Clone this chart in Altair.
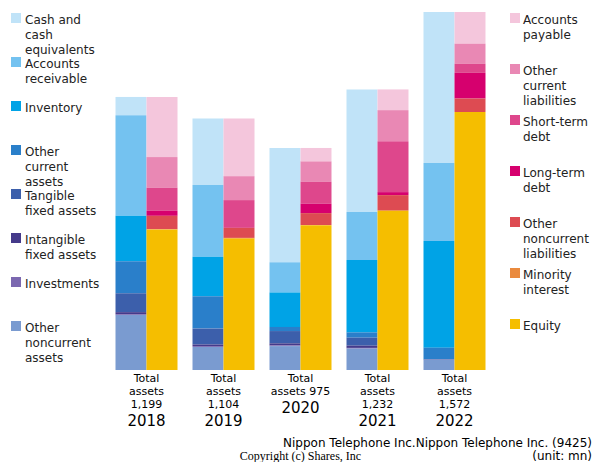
import altair as alt
import pandas as pd

# ---------------- data ----------------
years = ["2018", "2019", "2020", "2021", "2022"]
totals = [1199, 1104, 975, 1232, 1572]
total_labels = ["Total\nassets\n1,199", "Total\nassets\n1,104", "Total\nassets 975",
                "Total\nassets\n1,232", "Total\nassets\n1,572"]

# assets (legend order, top of bar first)
asset_cats = ["Cash and cash equivalents", "Accounts receivable", "Inventory",
              "Other current assets", "Tangible fixed assets", "Intangible fixed assets",
              "Investments", "Other noncurrent assets"]
asset_labels = ["Cash and\ncash\nequivalents", "Accounts\nreceivable", "Inventory",
                "Other\ncurrent\nassets", "Tangible\nfixed assets", "Intangible\nfixed assets",
                "Investments", "Other\nnoncurrent\nassets"]
asset_colors = ["#c0e3f8", "#74c2f0", "#00a3e6", "#2a7fca", "#3c5fab", "#453a8a",
                "#7b68b0", "#7a9bd0"]

cash = [80, 292, 502, 538, 663]
receivable = [442, 315, 133, 211, 343]
inventory = [199, 173, 151, 318, 468]
other_current_assets = [141, 142, 18, 23, 51]
tangible = [83, 70, 54, 35, 2]
intangible = [9, 7, 9, 10, 0]
investments = [4, 4, 3, 3, 1]
other_noncurrent_assets = [241, 101, 105, 94, 44]
asset_values = [cash, receivable, inventory, other_current_assets, tangible,
                intangible, investments, other_noncurrent_assets]

# liabilities & equity (legend order, top of bar first)
liab_cats = ["Accounts payable", "Other current liabilities", "Short-term debt",
             "Long-term debt", "Other noncurrent liabilities", "Minority interest", "Equity"]
liab_labels = ["Accounts\npayable", "Other\ncurrent\nliabilities", "Short-term\ndebt",
               "Long-term\ndebt", "Other\nnoncurrent\nliabilities", "Minority\ninterest", "Equity"]
liab_colors = ["#f4c6dc", "#e988b4", "#de478c", "#d6006e", "#dd4b52", "#ea8a3e", "#f5be00"]

payable = [264, 253, 59, 91, 139]
other_current_liab = [135, 105, 89, 136, 88]
short_debt = [101, 122, 97, 224, 40]
long_debt = [22, 0, 41, 13, 113]
other_noncurrent_liab = [59, 44, 53, 66, 59]
minority = [1, 3, 0, 4, 0]
equity = [617, 577, 636, 698, 1133]
liab_values = [payable, other_current_liab, short_debt, long_debt,
               other_noncurrent_liab, minority, equity]

# ---------------- tables ----------------
rows = []
for side, cats, series in [("A", asset_cats, asset_values), ("L", liab_cats, liab_values)]:
    n = len(cats)
    for i, (c, vals) in enumerate(zip(cats, series)):
        for yr, v in zip(years, vals):
            rows.append(dict(year=yr, side=side, cat=c, value=v, ord=n - 1 - i))
df = pd.DataFrame(rows)

tdf = pd.DataFrame(dict(year=years, label=total_labels,
                        nlines=[s.count("\n") + 1 for s in total_labels]))

color_scale = alt.Scale(domain=asset_cats + liab_cats, range=asset_colors + liab_colors)

MAIN_W, MAIN_H = 385, 358
xscale = alt.Scale(domain=years, paddingInner=15 / 77, paddingOuter=7.5 / 77)
yscale = alt.Scale(domain=[0, max(totals)], nice=False)
FONT = "DejaVu Sans"

bars = alt.Chart(df).mark_bar().encode(
    x=alt.X("year:N", scale=xscale, axis=None),
    xOffset=alt.XOffset("side:N", scale=alt.Scale(domain=["A", "L"], paddingInner=0, paddingOuter=0)),
    y=alt.Y("value:Q", stack="zero", scale=yscale, axis=None),
    color=alt.Color("cat:N", scale=color_scale, legend=None),
    order=alt.Order("ord:Q"),
)

total_text = alt.Chart(tdf).mark_text(
    baseline="top", align="center", fontSize=11, lineBreak="\n", lineHeight=13,
    dy=3, font=FONT, color="black"
).encode(x=alt.X("year:N", scale=xscale, axis=None), y=alt.datum(0), text="label:N")

year3 = alt.Chart(tdf).transform_filter("datum.nlines == 3").mark_text(
    baseline="middle", align="center", fontSize=15, dy=51, font=FONT, color="black"
).encode(x=alt.X("year:N", scale=xscale, axis=None), y=alt.datum(0), text="year:N")

year2 = alt.Chart(tdf).transform_filter("datum.nlines == 2").mark_text(
    baseline="middle", align="center", fontSize=15, dy=38, font=FONT, color="black"
).encode(x=alt.X("year:N", scale=xscale, axis=None), y=alt.datum(0), text="year:N")

foot_df = pd.DataFrame(dict(t=["Nippon Telephone Inc.Nippon Telephone Inc. (9425)"]))
foot1 = alt.Chart(foot_df).mark_text(
    baseline="middle", align="right", fontSize=12, dy=73, font=FONT, color="black"
).encode(x=alt.value(484), y=alt.datum(0), text="t:N")
unit_df = pd.DataFrame(dict(t=["(unit: mn)"]))
foot2 = alt.Chart(unit_df).mark_text(
    baseline="middle", align="right", fontSize=12, dy=86, font=FONT, color="black"
).encode(x=alt.value(484), y=alt.datum(0), text="t:N")
copy_df = pd.DataFrame(dict(t=["Copyright (c) Shares, Inc"]))
foot3 = alt.Chart(copy_df).mark_text(
    baseline="middle", align="center", fontSize=12, dy=86, font="Liberation Serif", color="black"
).encode(x=alt.value(MAIN_W / 2), y=alt.datum(0), text="t:N")

main = alt.layer(bars, total_text, year3, year2, foot1, foot2, foot3).properties(
    width=MAIN_W, height=MAIN_H)


def legend_chart(cats, labels, step, width, sq_x, tx_x):
    ldf = pd.DataFrame(dict(cat=cats, label=labels))
    n = len(cats)
    pad = 6 / step
    h = step * (n - 1) + 12
    ysc = alt.Scale(type="point", padding=pad, domain=cats)
    sq = alt.Chart(ldf).mark_square(size=100, opacity=1).encode(
        x=alt.value(sq_x),
        y=alt.Y("cat:N", scale=ysc, axis=None),
        color=alt.Color("cat:N", scale=color_scale, legend=None),
    )
    tx = alt.Chart(ldf).mark_text(
        align="left", baseline="top", dy=-3, fontSize=12, lineHeight=15,
        lineBreak="\n", font=FONT, color="#222222"
    ).encode(x=alt.value(tx_x), y=alt.Y("cat:N", scale=ysc, axis=None), text="label:N")
    return alt.layer(sq, tx).properties(width=width, height=h)


left = legend_chart(asset_cats, asset_labels, 44, 100, 8, 17)
right = legend_chart(liab_cats, liab_labels, 51, 99, 22, 30)

chart = alt.hconcat(left, main, right, spacing=0, bounds="flush").resolve_scale(
    y="independent"
).properties(
    padding={"left": 0, "top": 4, "right": 0, "bottom": 0}
).configure(font=FONT).configure_view(stroke=None)

chart.save("out.html", embed_options={"renderer": "svg", "actions": False})
